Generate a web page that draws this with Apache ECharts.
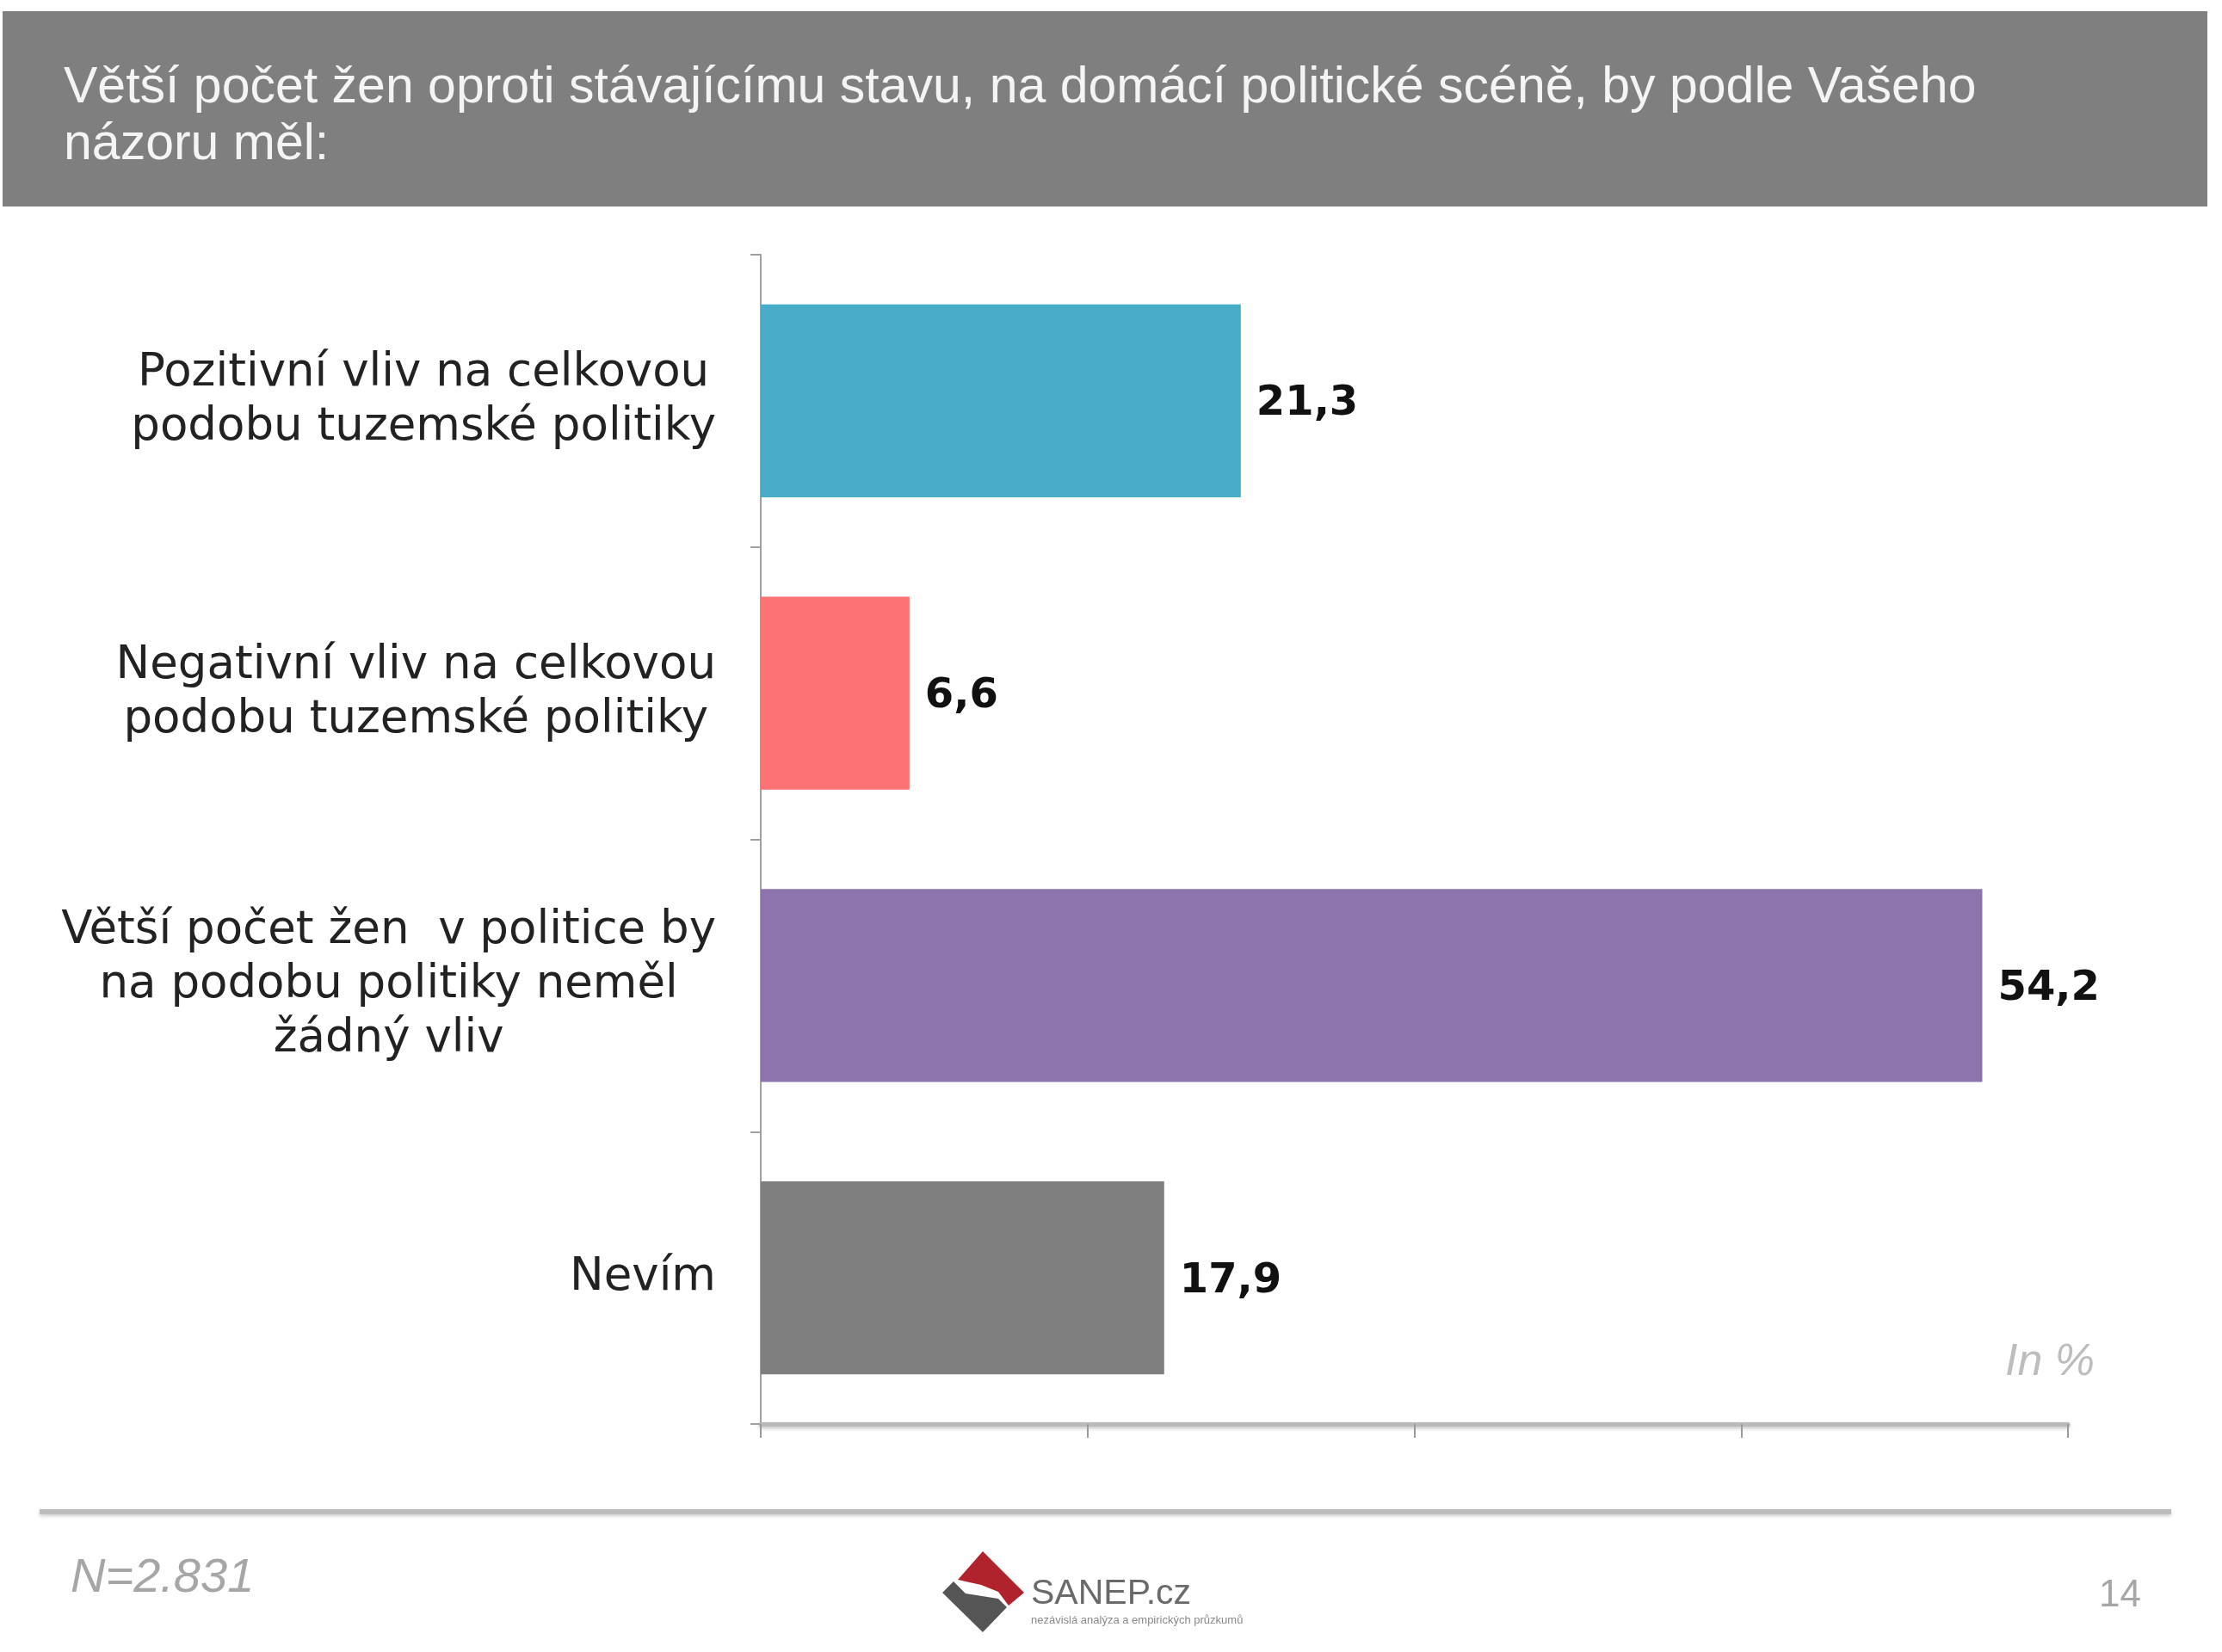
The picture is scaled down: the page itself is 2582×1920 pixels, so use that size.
<!DOCTYPE html>
<html>
<head>
<meta charset="utf-8">
<title>SANEP - vliv žen v politice</title>
<script src="https://cdn.jsdelivr.net/npm/echarts@6/dist/echarts.min.js"></script>
<style>
  html, body { margin: 0; padding: 0; background: #fff; }
  #chart { width: 2582px; height: 1920px; }
</style>
</head>
<body>
<div id="chart"></div>
<script>
// data
const categories = [
  'Pozitivní vliv na celkovou\npodobu tuzemské politiky',
  'Negativní vliv na celkovou\npodobu tuzemské politiky',
  'Větší počet žen  v politice by\nna podobu politiky neměl\nžádný vliv',
  'Nevím'
];
const values = [21.3, 6.6, 54.2, 17.9];
const barColors = ['#47acc8', '#fd7272', '#8d74ad', '#7f7f7f'];
const titleText = 'Větší počet žen oproti stávajícímu stavu, na domácí politické scéně, by podle Vašeho\nnázoru měl:';
const sampleText = 'N=2.831';
const unitText = 'In %';
const pageNo = '14';

// 1. init
let myChart = echarts.init(document.getElementById('chart'));

// 2. options
let option = {
  backgroundColor: '#ffffff',
  animation: false,
  title: {
    text: titleText,
    left: 74,
    top: 70,
    padding: 0,
    textStyle: {
      color: '#f4f4f4',
      fontFamily: 'Liberation Sans',
      fontWeight: 'normal',
      fontSize: 59,
      lineHeight: 66
    }
  },
  grid: {
    left: 884,
    top: 296,
    right: 179,
    bottom: 265
  },
  xAxis: {
    type: 'value',
    min: 0,
    max: 58,
    interval: 14.5,
    axisLine: {
      show: true,
      lineStyle: { color: '#b9b9b9', width: 5, shadowBlur: 4, shadowColor: 'rgba(0,0,0,0.25)', shadowOffsetY: 2 }
    },
    axisTick: { show: true, length: 16, lineStyle: { color: '#9a9a9a', width: 2 } },
    axisLabel: { show: false },
    splitLine: { show: false }
  },
  yAxis: {
    type: 'category',
    inverse: true,
    data: categories,
    axisLine: { show: true, lineStyle: { color: '#a0a0a0', width: 2 } },
    axisTick: { show: true, length: 12, lineStyle: { color: '#a0a0a0', width: 2 } },
    axisLabel: {
      margin: 52,
      align: 'right',
      formatter: function (v) {
        // 每行居中
        return v.split('\n').map(l => '{c|' + l + '}').join('\n');
      },
      rich: {
        c: {
          align: 'center',
          color: '#222222',
          fontFamily: 'DejaVu Sans',
          fontSize: 53,
          lineHeight: 63
        }
      }
    }
  },
  series: [
    {
      type: 'bar',
      barCategoryGap: '34%',
      data: values.map((v, i) => ({ value: v, itemStyle: { color: barColors[i] } })),
      label: {
        show: true,
        position: 'right',
        distance: 18,
        offset: [0, 4],
        color: '#111111',
        fontFamily: 'DejaVu Sans',
        fontWeight: 'bold',
        fontSize: 48,
        formatter: p => p.value.toFixed(1).replace('.', ',')
      }
    }
  ],
  graphic: [
    // 标题背景
    { type: 'rect', z: -10, shape: { x: 3, y: 13, width: 2562, height: 227 }, style: { fill: '#7f7f7f' } },
    // In %
    { type: 'text', left: 2330, top: 1558, style: { text: unitText, fill: '#bdbdbd', font: 'italic 52px "Liberation Sans"' } },
    // 底部横线
    { type: 'line', shape: { x1: 46, y1: 1757, x2: 2523, y2: 1757 }, style: { stroke: '#bdbdbd', lineWidth: 6, shadowBlur: 4, shadowColor: 'rgba(0,0,0,0.2)', shadowOffsetY: 2 } },
    // N=
    { type: 'text', left: 82, top: 1806, style: { text: sampleText, fill: '#a6a6a6', font: 'italic 56px "Liberation Sans"' } },
    // 页码
    { type: 'text', left: 2439, top: 1833, style: { text: pageNo, fill: '#a6a6a6', font: '44px "Liberation Sans"' } },
    // logo
    { type: 'polygon', shape: { points: [[1142,1803],[1190,1851],[1172,1866],[1160,1850],[1140,1842],[1113,1836]] }, style: { fill: '#b0222c' } },
    { type: 'polygon', shape: { points: [[1095,1851],[1108,1838],[1122,1852],[1160,1858],[1170,1868],[1142,1897]] }, style: { fill: '#555555' } },
    { type: 'text', left: 1198, top: 1832, style: { text: 'SANEP.cz', fill: '#6a6a6a', font: '41px "Liberation Sans"' } },
    { type: 'text', left: 1198, top: 1877, style: { text: 'nezávislá analýza a empirických průzkumů', fill: '#8a8a8a', font: '13px "Liberation Sans"' } }
  ]
};

// 3. set option
myChart.setOption(option);
window.addEventListener('resize', function () {
  myChart.resize();
});
</script>
</body>
</html>
